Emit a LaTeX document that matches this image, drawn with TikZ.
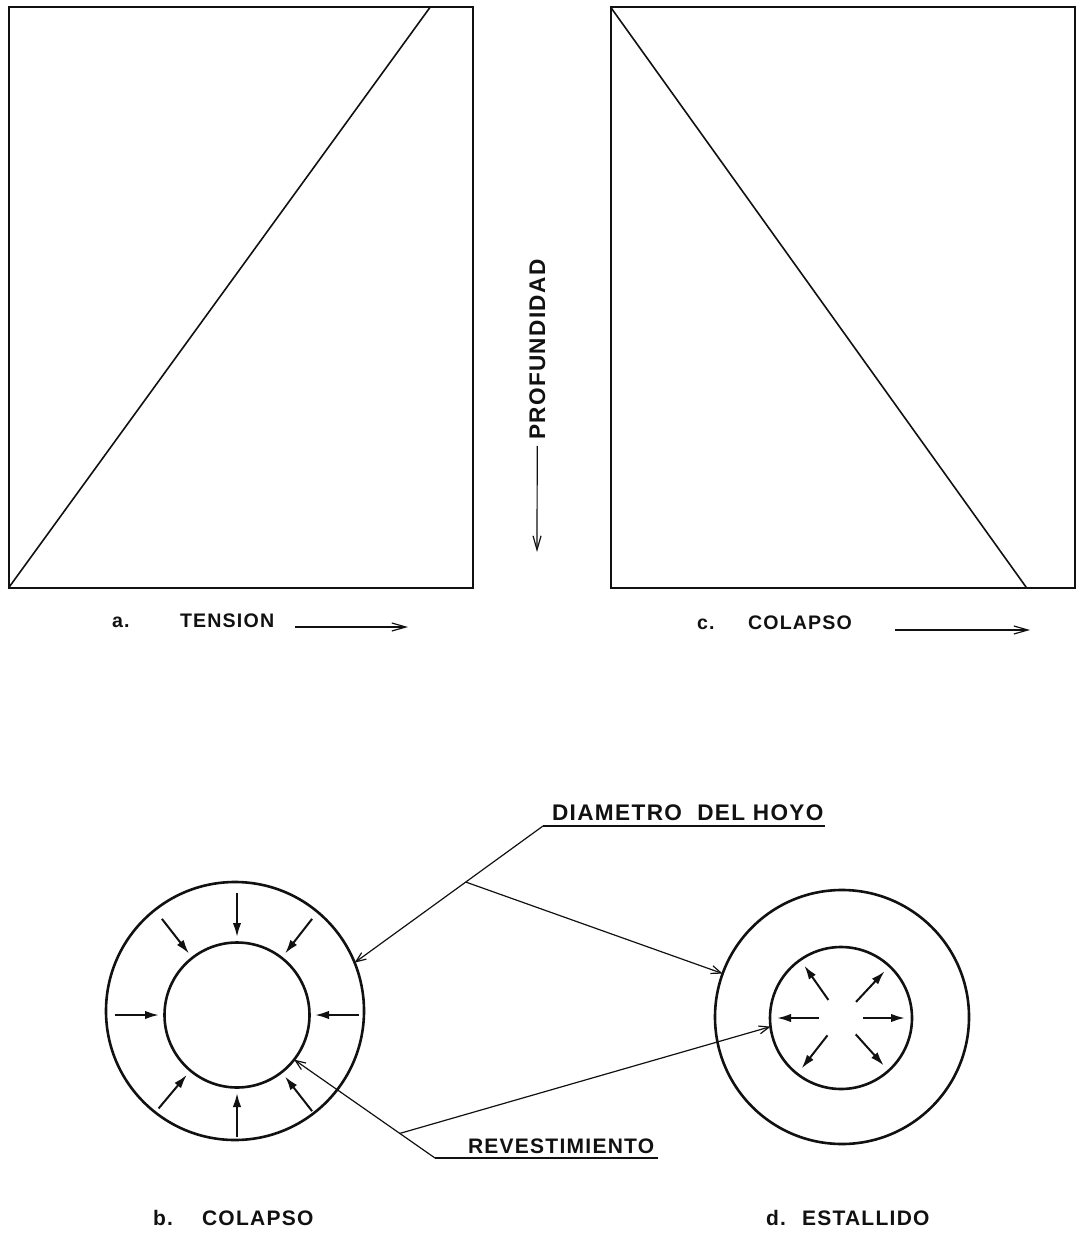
\documentclass[tikz,border=0pt]{standalone}
\usepackage{fontspec}
\setmainfont{Liberation Sans}
\newfontfamily\lettering[LetterSpace=6]{Liberation Sans}
\usetikzlibrary{arrows.meta,calc}
\definecolor{cInk}{HTML}{111111}
\tikzset{
  lbl/.style={font=\lettering\bfseries\fontsize{9.8}{12}\selectfont, text=cInk, inner sep=0pt, outer sep=0pt, anchor=base west},
  lblM/.style={lbl, font=\lettering\bfseries\fontsize{10.5}{12}\selectfont},
  lblB/.style={lbl, font=\lettering\bfseries\fontsize{11.3}{13}\selectfont},
  plotbox/.style={draw=cInk, line width=1pt, minimum width=232pt, minimum height=290.5pt, inner sep=0pt, outer sep=0pt},
  ring/.style={circle, draw=cInk, line width=1.3pt, inner sep=0pt, outer sep=0pt, minimum size=#1},
  curve/.style={draw=cInk, line width=0.8pt},
  uline/.style={draw=cInk, line width=0.6pt},
  press/.style={-{Latex[length=7pt,width=4.2pt]}, line width=1pt, draw=cInk},
  leader/.style={-{Straight Barb[length=5pt,width=4pt]}, line width=0.6pt, draw=cInk},
  axarrow/.style={-{Straight Barb[length=7pt,width=4pt]}, line width=0.6pt, draw=cInk},
}
\begin{document}
\begin{tikzpicture}[x=0.5pt,y=-0.5pt]
\useasboundingbox (0,0) rectangle (1081,1234);
% (a) tension
\node[plotbox] (pa) at (240.5,297.5) {};
\draw[curve] (pa.south west) -- ($(pa.north west)!0.909!(pa.north east)$);
\node[lbl] (la) at (112,627) {a.};
\node[lbl] (tension) at (180,627) {TENSION};
\coordinate (ta0) at (295,627);
\coordinate (ta1) at (408,627);
\draw[axarrow] (ta0) -- (ta1);
% (c) colapso
\node[plotbox] (pc) at (842.5,297.5) {};
\draw[curve] (pc.north west) -- ($(pc.south west)!0.897!(pc.south east)$);
\node[lbl] (lc) at (697,629) {c.};
\node[lbl] (colc) at (748,629) {COLAPSO};
\coordinate (tc0) at (895,630);
\coordinate (tc1) at (1030,630);
\draw[axarrow] (tc0) -- (tc1);
% depth axis
\node[lblB, rotate=90] (prof) at (545,440) {PROFUNDIDAD};
\coordinate (pax) at (537,552);
\draw[axarrow] ([yshift=-3pt]prof.west) -- (pax);
% (b) collapse of casing
\node[ring=129pt] (bout) at (235,1011) {};
\node[ring=72.5pt] (bin) at (237,1015) {};
\foreach \a in {0,52,90,128,180,230,270,308}
  \draw[press] ([shift={(\a:61pt)}]bin.center) -- ([shift={(\a:39pt)}]bin.center);
\node[lblM] (lb) at (153,1225) {b.};
\node[lblM] (colb) at (202,1225) {COLAPSO};
% (d) burst
\node[ring=127pt] (dout) at (842,1017) {};
\node[ring=71pt] (din) at (841,1018) {};
\foreach \a in {0,47,125,180,232,312}
  \draw[press] ([shift={(\a:11pt)}]din.center) -- ([shift={(\a:32pt)}]din.center);
\node[lblM] (ld) at (766,1225) {d.};
\node[lblM] (est) at (802,1225) {ESTALLIDO};
% leaders
\node[lblB] (dia) at (552,820) {DIAMETRO\ \ DEL HOYO};
\coordinate (diaL) at (543,826);
\draw[uline] (diaL) -- ([xshift=1pt]diaL -| dia.east);
\draw[leader] (diaL) -- (bout.22);
\coordinate (diaJ) at ($(diaL)!0.41!(bout.22)$);
\draw[leader] (diaJ) -- (dout.160);
\node[lblM] (rev) at (468,1153) {REVESTIMIENTO};
\coordinate (revL) at (435,1158);
\draw[uline] (revL) -- ([xshift=2pt]revL -| rev.east);
\draw[leader] (revL) -- (bin.322);
\coordinate (revJ) at ($(revL)!0.25!(bin.322)$);
\draw[leader] (revJ) -- (din.187);
\end{tikzpicture}
\end{document}
